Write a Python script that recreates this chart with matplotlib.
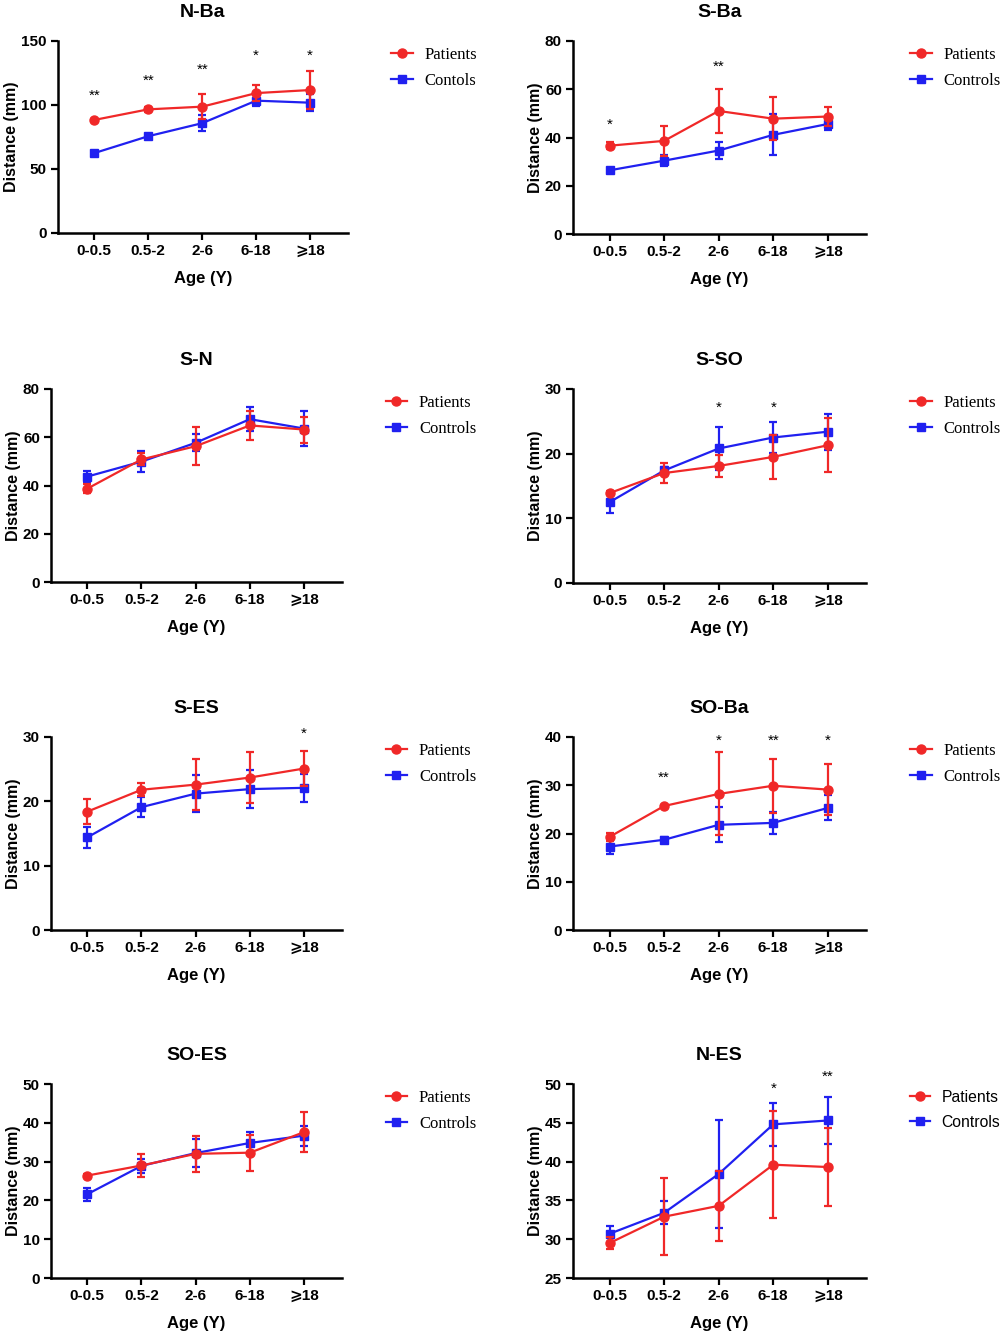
import matplotlib.pyplot as plt

plt.rcParams['font.family'] = ['Liberation Sans', 'DejaVu Sans']
plt.rcParams['font.weight'] = 'bold'

ages = ['0-0.5', '0.5-2', '2-6', '6-18', '\u2a7e18']

# N-Ba
nba_pat = [88.3, 96.6, 98.7, 109.3, 111.7]
nba_pat_err = [1.0, 1.8, 9.8, 6.5, 15.0]
nba_con = [62.4, 75.6, 85.8, 103.4, 101.8]
nba_con_err = [1.0, 1.0, 6.0, 4.5, 6.5]
nba_sig = ['**', '**', '**', '*', '*']
nba_sig_y = [110, 122, 130, 141, 141]

# S-Ba
sba_pat = [36.6, 38.6, 51.0, 47.8, 48.7]
sba_pat_err = [1.5, 6.3, 9.3, 9.0, 4.0]
sba_con = [26.4, 30.4, 34.6, 41.1, 45.6]
sba_con_err = [1.0, 2.3, 3.6, 8.5, 2.5]
sba_sig = ['*', '', '**', '', '']
sba_sig_y = [46.6, 0, 70.9, 0, 0]

# S-N
sn_pat = [38.7, 50.8, 56.3, 64.9, 63.2]
sn_pat_err = [2.0, 2.5, 7.8, 5.9, 5.4]
sn_con = [43.7, 49.9, 57.7, 67.5, 63.6]
sn_con_err = [2.2, 4.2, 3.6, 5.0, 7.2]
sn_sig = ['', '', '', '', '']
sn_sig_y = [0, 0, 0, 0, 0]

# S-SO
sso_pat = [13.9, 17.0, 18.1, 19.5, 21.3]
sso_pat_err = [0.3, 1.5, 1.7, 3.4, 4.2]
sso_con = [12.5, 17.4, 20.8, 22.5, 23.4]
sso_con_err = [1.6, 0.5, 3.3, 2.4, 2.8]
sso_sig = ['', '', '*', '*', '']
sso_sig_y = [0, 0, 27.7, 27.7, 0]

# S-ES
ses_pat = [18.4, 21.8, 22.6, 23.7, 25.1]
ses_pat_err = [2.0, 1.0, 4.0, 4.0, 2.7]
ses_con = [14.4, 19.1, 21.2, 21.9, 22.1]
ses_con_err = [1.6, 1.5, 2.9, 2.9, 2.2]
ses_sig = ['', '', '', '', '*']
ses_sig_y = [0, 0, 0, 0, 31.1]

# SO-Ba
soba_pat = [19.3, 25.7, 28.2, 29.9, 29.1]
soba_pat_err = [0.8, 0.3, 8.6, 5.6, 5.3]
soba_con = [17.3, 18.7, 21.8, 22.2, 25.3]
soba_con_err = [1.5, 0.5, 3.6, 2.2, 2.6]
soba_sig = ['', '**', '*', '**', '*']
soba_sig_y = [0, 32.4, 39.9, 39.9, 39.9]

# SO-ES
soes_pat = [26.4, 29.0, 32.0, 32.3, 37.6]
soes_pat_err = [0.3, 3.0, 4.7, 4.6, 5.2]
soes_con = [21.6, 28.9, 32.2, 34.8, 36.7]
soes_con_err = [1.7, 1.8, 3.6, 2.8, 2.6]
soes_sig = ['', '', '', '', '']
soes_sig_y = [0, 0, 0, 0, 0]

# N-ES
nes_pat = [29.5, 32.9, 34.3, 39.6, 39.3]
nes_pat_err = [0.8, 5.0, 4.5, 6.9, 5.0]
nes_con = [30.7, 33.4, 38.4, 44.8, 45.3]
nes_con_err = [1.0, 1.5, 6.9, 2.8, 3.0]
nes_sig = ['', '', '', '*', '**']
nes_sig_y = [0, 0, 0, 49.8, 51.4]

RED = '#f02828'
BLUE = '#2020f0'
W, H = 1002, 1339

fig = plt.figure(figsize=(W / 100, H / 100), dpi=100)


def panel(box, title, pat, pat_err, con, con_err, sig, sig_y, yticks,
          con_label='Controls', legend_family='Liberation Serif', legend_size=12):
    l, r, t, b = box
    ax = fig.add_axes([l / W, 1 - b / H, (r - l) / W, (b - t) / H])
    x = list(range(len(ages)))

    c = ax.errorbar(x, con, yerr=con_err, color=BLUE, marker='s', ms=6,
                    lw=1.6, elinewidth=1.6, capsize=3.2, capthick=1.6, zorder=3)
    p = ax.errorbar(x, pat, yerr=pat_err, color=RED, marker='o', ms=6.5,
                    lw=1.6, elinewidth=1.6, capsize=3.2, capthick=1.6, zorder=4)

    for i, s in enumerate(sig):
        if s:
            ax.annotate(s, (x[i], sig_y[i]), xytext=(0, -5.5),
                        textcoords='offset points', ha='center', va='baseline',
                        fontsize=11, fontweight='normal', annotation_clip=False)

    ax.set_xlim(-0.67, 4.7)
    ax.set_ylim(yticks[0], yticks[-1])
    ax.set_yticks(yticks)
    ax.set_xticks(x)
    ax.set_xticklabels(ages)
    for side in ['top', 'right']:
        ax.spines[side].set_visible(False)
    for side in ['left', 'bottom']:
        ax.spines[side].set_linewidth(1.8)
    ax.tick_params(width=1.6, length=5, labelsize=11, pad=3)

    ax.set_title(title, fontsize=14, fontweight='bold', pad=17)
    ax.set_ylabel('Distance (mm)', fontsize=11.5, fontweight='bold', labelpad=1.5)
    ax.set_xlabel('Age (Y)', fontsize=12, fontweight='bold', labelpad=9)

    ax.legend([p.lines[0], c.lines[0]], ['Patients', con_label],
              loc='upper left', bbox_to_anchor=(1.15, 0.97),
              frameon=False, borderpad=0, borderaxespad=0,
              handlelength=1.3, handletextpad=0.7, labelspacing=0.62,
              prop={'family': legend_family, 'size': legend_size, 'weight': 'normal'})
    return ax


panel((58, 348, 41, 233), 'N-Ba', nba_pat, nba_pat_err, nba_con, nba_con_err,
      nba_sig, nba_sig_y, [0, 50, 100, 150], con_label='Contols')
panel((573, 866, 41, 234), 'S-Ba', sba_pat, sba_pat_err, sba_con, sba_con_err,
      sba_sig, sba_sig_y, [0, 20, 40, 60, 80])
panel((51, 342, 389, 582), 'S-N', sn_pat, sn_pat_err, sn_con, sn_con_err,
      sn_sig, sn_sig_y, [0, 20, 40, 60, 80])
panel((573, 866, 389, 583), 'S-SO', sso_pat, sso_pat_err, sso_con, sso_con_err,
      sso_sig, sso_sig_y, [0, 10, 20, 30])
panel((51, 342, 737, 930), 'S-ES', ses_pat, ses_pat_err, ses_con, ses_con_err,
      ses_sig, ses_sig_y, [0, 10, 20, 30])
panel((573, 866, 737, 930), 'SO-Ba', soba_pat, soba_pat_err, soba_con, soba_con_err,
      soba_sig, soba_sig_y, [0, 10, 20, 30, 40])
panel((51, 342, 1084, 1278), 'SO-ES', soes_pat, soes_pat_err, soes_con, soes_con_err,
      soes_sig, soes_sig_y, [0, 10, 20, 30, 40, 50])
panel((573, 866, 1084, 1278), 'N-ES', nes_pat, nes_pat_err, nes_con, nes_con_err,
      nes_sig, nes_sig_y, [25, 30, 35, 40, 45, 50],
      legend_family='Liberation Sans', legend_size=11.3)

fig.savefig('out.png', dpi=100)
